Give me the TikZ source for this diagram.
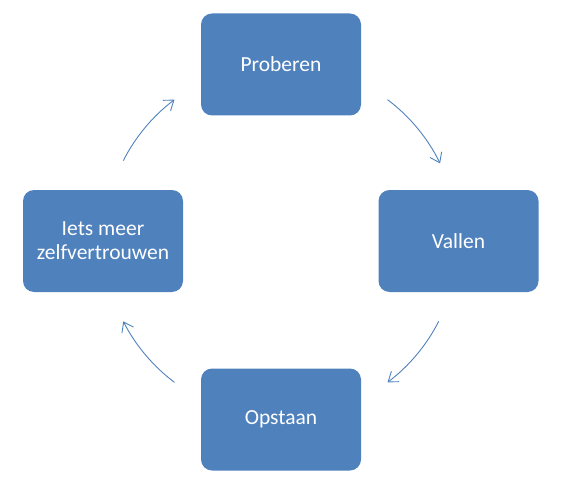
\documentclass[tikz,border=0pt]{standalone}
\usepackage{fontspec}
\setmainfont{Carlito}
\usetikzlibrary{arrows.meta}
\definecolor{boxblue}{HTML}{4F81BD}

\begin{document}
\begin{tikzpicture}[x=1pt,y=1pt,
  stap/.style={rectangle, rounded corners=11pt, fill=boxblue, minimum width=160pt, minimum height=102pt, text=white, align=center, font=\fontsize{21.5}{24}\selectfont},
  flow/.style={draw=boxblue, line width=0.9pt, -{Straight Barb[length=9pt,width=13pt]}}]
\useasboundingbox (0,0) rectangle (565,483);
\coordinate (hub) at (281,242);
\node[stap] (proberen) at (281,418.5) {Proberen};
\node[stap] (vallen) at (458.5,242) {Vallen};
\node[stap] (opstaan) at (281,63.5) {Opstaan};
\node[stap] (iets) at (103,242) {Iets meer\\zelfvertrouwen};
\draw[flow] (hub) ++(53:177) arc[start angle=53,end angle=26,radius=177];
\draw[flow] (hub) ++(-27:177) arc[start angle=-27,end angle=-53,radius=177];
\draw[flow] (hub) ++(-127:177) arc[start angle=-127,end angle=-153,radius=177];
\draw[flow] (hub) ++(153:177) arc[start angle=153,end angle=127,radius=177];
\end{tikzpicture}
\end{document}
